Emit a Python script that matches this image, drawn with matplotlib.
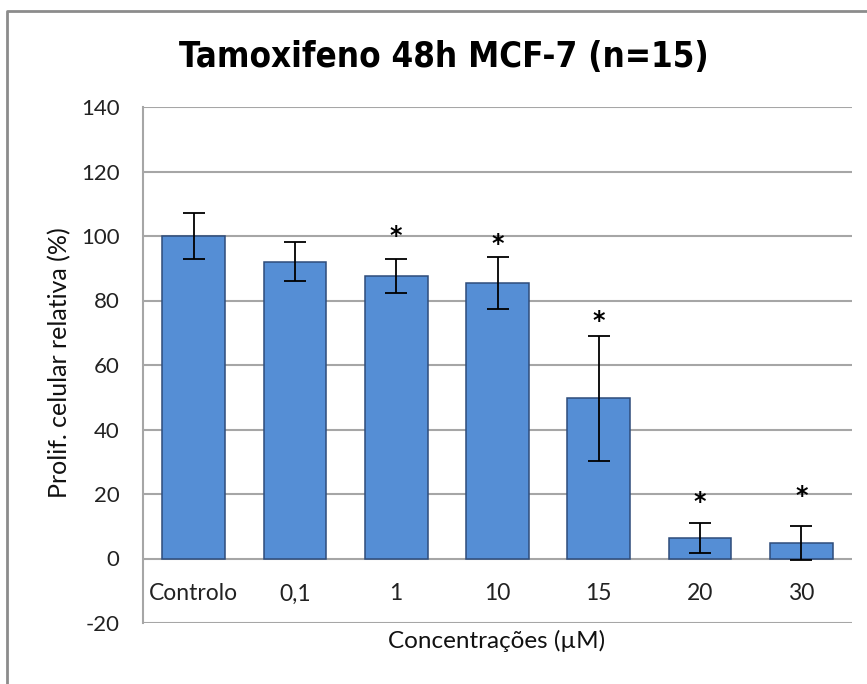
import matplotlib
matplotlib.use("Agg")
import matplotlib.pyplot as plt
from matplotlib.lines import Line2D

# Relative cell proliferation after 48 h tamoxifen exposure (MCF-7, n=15)
categories = ["Controlo", "0,1", "1", "10", "15", "20", "30"]
means = [100.0, 92.0, 87.5, 85.5, 49.7, 6.4, 4.8]
errors = [7.0, 6.0, 5.3, 8.0, 19.4, 4.6, 5.4]
significant = [False, False, True, True, True, True, True]
star_heights = [None, None, 100.0, 97.5, 73.5, 17.5, 19.3]

title = "Tamoxifeno 48h MCF-7 (n=15)"
ylabel = "Prolif. celular relativa (%)"
xlabel = "Concentrações (µM)"
yticks = [-20, 0, 20, 40, 60, 80, 100, 120, 140]

W, H = 867, 684
fig = plt.figure(figsize=(W / 100, H / 100), dpi=100)
ax = fig.add_axes([143 / W, 1 - 623 / H, (852 - 143) / W, (623 - 107) / H])

grid_c = "#A6A6A6"
x = list(range(len(categories)))
ax.bar(x, means, width=0.62, color="#558ED5", edgecolor="#2E4C7A",
       linewidth=1.1, zorder=3)
ax.errorbar(x, means, yerr=errors, fmt="none", ecolor="black",
            elinewidth=1.3, capsize=8, capthick=1.3, zorder=4)

for xi, sig, sy in zip(x, significant, star_heights):
    if sig:
        ax.text(xi, sy, "*", ha="center", va="center", fontsize=17,
                fontweight="bold", family="DejaVu Sans", zorder=5)

ax.set_xlim(-0.5, len(categories) - 0.5)
ax.set_ylim(-20, 140)
ax.set_yticks(yticks)
ax.set_yticklabels([str(t) for t in yticks], fontsize=16, family="Lato",
                   color="#222222")
ax.tick_params(axis="y", length=0, pad=17)
ax.set_xticks([])
for t in yticks:
    ax.axhline(t, color=grid_c, linewidth=1.5, zorder=1)

for s in ("top", "right", "bottom"):
    ax.spines[s].set_visible(False)
ax.spines["left"].set_color(grid_c)
ax.spines["left"].set_linewidth(1.5)

for xi, lab in zip(x, categories):
    ax.text(xi, -11, lab, ha="center", va="center", fontsize=16.5,
            family="Lato", color="#222222")

fig.text(60 / W, 1 - 363 / H, ylabel, ha="center", va="center",
         rotation=90, fontsize=18, family="Lato", color="#111111")
fig.text(497 / W, 1 - 641 / H, xlabel, ha="center", va="center",
         fontsize=17.5, family="Lato", color="#111111")
fig.text(444 / W, 1 - 57 / H, title, ha="center", va="center",
         fontsize=25, fontweight="bold", family="DejaVu Sans",
         fontstretch="condensed")

# outer chart frame (left and top edges)
fig.add_artist(Line2D([7 / W, 7 / W, 1.0], [0.0, 1 - 11 / H, 1 - 11 / H],
                      transform=fig.transFigure, color="#8C8C8C",
                      linewidth=2.0))

fig.savefig("out.png", dpi=100)
